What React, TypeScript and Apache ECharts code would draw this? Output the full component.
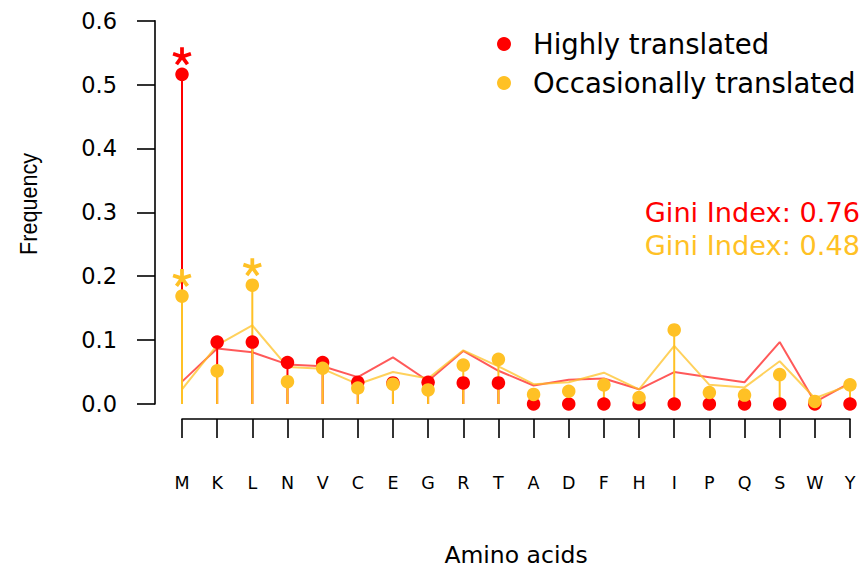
import React, { useEffect, useRef } from "react";
import * as echarts from "echarts";

// Amino acids on the x axis, in plotting order
const aminoAcids = ["M", "K", "L", "N", "V", "C", "E", "G", "R", "T", "A", "D", "F", "H", "I", "P", "Q", "S", "W", "Y"];

// Observed frequencies (dots + stems)
const highlyObserved = [0.516, 0.097, 0.097, 0.065, 0.065, 0.034, 0.033, 0.034, 0.033, 0.033, 0, 0, 0, 0, 0, 0, 0, 0, 0, 0];
const occasionallyObserved = [0.169, 0.052, 0.186, 0.035, 0.056, 0.025, 0.031, 0.022, 0.061, 0.07, 0.015, 0.02, 0.03, 0.01, 0.116, 0.018, 0.014, 0.046, 0.004, 0.03];

// Background frequencies (thin lines)
const highlyBackground = [0.035, 0.087, 0.081, 0.062, 0.059, 0.042, 0.073, 0.036, 0.083, 0.052, 0.029, 0.038, 0.04, 0.023, 0.05, 0.042, 0.034, 0.097, 0.003, 0.033];
const occasionallyBackground = [0.023, 0.092, 0.123, 0.058, 0.055, 0.031, 0.05, 0.04, 0.084, 0.059, 0.031, 0.034, 0.049, 0.023, 0.091, 0.03, 0.026, 0.067, 0.009, 0.03];

// Residues marked as significantly enriched
const highlyStarred = ["M"];
const occasionallyStarred = ["M", "L"];

const giniHighly = 0.76;
const giniOccasionally = 0.48;

const yMin = 0;
const yMax = 0.6;
const yStep = 0.1;

const RED = "#FF0000";
const GOLD = "#FFC125";
const SANS = "DejaVu Sans";

// Five-armed asterisk used as the significance marker
function asteriskSymbol(): string {
  const R = 50;
  const w = 10;
  let d = "";
  for (let k = 0; k < 5; k++) {
    const a = Math.PI / 2 + (k * 2 * Math.PI) / 5;
    const dx = Math.cos(a);
    const dy = -Math.sin(a);
    const px = -dy;
    const py = dx;
    const pts = [
      [px * w, py * w],
      [dx * R + px * w, dy * R + py * w],
      [dx * R - px * w, dy * R - py * w],
      [-px * w, -py * w],
    ];
    d += "M" + pts.map((p) => (p[0] + 60).toFixed(2) + " " + (p[1] + 60).toFixed(2)).join("L") + "Z";
  }
  return "path://" + d;
}

function starData(starred: string[], values: number[]) {
  return starred.map((aa) => [aa, values[aminoAcids.indexOf(aa)]]);
}

export default function App() {
  const ref = useRef<HTMLDivElement>(null);

  useEffect(() => {
    if (!ref.current) return;
    const chart = echarts.init(ref.current, undefined, { renderer: "svg" });
    const star = asteriskSymbol();

    chart.setOption({
      animation: false,
      backgroundColor: "#ffffff",
      grid: { left: 182, right: 16, top: 20.7, bottom: 167, containLabel: false },
      legend: {
        data: [
          { name: "Highly translated", icon: "circle" },
          { name: "Occasionally translated", icon: "circle" },
        ],
        orient: "vertical",
        left: 497,
        top: 29,
        padding: 0,
        itemWidth: 48,
        itemHeight: 14,
        itemGap: 9,
        selectedMode: false,
        textStyle: { fontFamily: SANS, fontSize: 27.5, color: "#000", lineHeight: 30 },
      },
      xAxis: {
        type: "category",
        data: aminoAcids,
        boundaryGap: false,
        offset: 15,
        axisLine: { onZero: false, lineStyle: { color: "#000", width: 1.6 } },
        axisTick: { alignWithLabel: true, length: 19, lineStyle: { color: "#000", width: 1.6 } },
        axisLabel: {
          color: "#000",
          fontFamily: SANS,
          fontSize: 17.5,
          margin: 64,
          verticalAlign: "middle",
          interval: 0,
        },
        splitLine: { show: false },
        name: "Amino acids",
        nameLocation: "middle",
        nameGap: 136,
        nameTextStyle: { color: "#000", fontFamily: SANS, fontSize: 23.5, verticalAlign: "middle" },
      },
      yAxis: {
        type: "value",
        min: yMin,
        max: yMax,
        interval: yStep,
        offset: 27,
        axisLine: { show: true, onZero: false, lineStyle: { color: "#000", width: 1.6 } },
        axisTick: { show: true, length: 18, lineStyle: { color: "#000", width: 1.6 } },
        axisLabel: {
          color: "#000",
          fontFamily: SANS,
          fontSize: 22.5,
          margin: 38,
          formatter: (v: number) => v.toFixed(1),
        },
        splitLine: { show: false },
      },
      graphic: [
        {
          type: "text",
          x: 28,
          y: 204,
          rotation: Math.PI / 2,
          scaleY: 1.15,
          style: {
            text: "Frequency",
            fontFamily: "Liberation Sans",
            fontSize: 21.6,
            fill: "#000",
            align: "center",
            verticalAlign: "middle",
          },
        },
        {
          type: "text",
          x: 860,
          y: 212,
          style: {
            text: `Gini Index: ${giniHighly.toFixed(2)}`,
            fontFamily: SANS,
            fontSize: 27.2,
            fill: RED,
            align: "right",
            verticalAlign: "middle",
          },
        },
        {
          type: "text",
          x: 860,
          y: 245,
          style: {
            text: `Gini Index: ${giniOccasionally.toFixed(2)}`,
            fontFamily: SANS,
            fontSize: 27.2,
            fill: GOLD,
            align: "right",
            verticalAlign: "middle",
          },
        },
      ],
      series: [
        {
          name: "Highly background",
          type: "line",
          data: highlyBackground,
          symbol: "none",
          clip: false,
          lineStyle: { color: "rgba(255,0,0,0.65)", width: 2 },
          z: 1,
        },
        {
          name: "Occasionally background",
          type: "line",
          data: occasionallyBackground,
          symbol: "none",
          clip: false,
          lineStyle: { color: "rgba(255,193,37,0.75)", width: 2 },
          z: 1,
        },
        {
          name: "Highly stems",
          type: "bar",
          data: highlyObserved,
          barWidth: 2,
          barGap: "-100%",
          itemStyle: { color: RED },
          z: 2,
        },
        {
          name: "Occasionally stems",
          type: "bar",
          data: occasionallyObserved,
          barWidth: 2,
          barGap: "-100%",
          itemStyle: { color: GOLD },
          z: 2,
        },
        {
          name: "Highly translated",
          type: "scatter",
          data: highlyObserved,
          symbol: "circle",
          symbolSize: 13.5,
          clip: false,
          itemStyle: { color: RED, opacity: 1 },
          z: 3,
        },
        {
          name: "Occasionally translated",
          type: "scatter",
          data: occasionallyObserved,
          symbol: "circle",
          symbolSize: 13.5,
          clip: false,
          itemStyle: { color: GOLD, opacity: 1 },
          z: 3,
        },
        {
          name: "Highly significant",
          type: "scatter",
          data: starData(highlyStarred, highlyObserved),
          symbol: star,
          symbolSize: [19, 18],
          symbolOffset: [0, -18],
          clip: false,
          itemStyle: { color: RED, opacity: 1 },
          z: 4,
        },
        {
          name: "Occasionally significant",
          type: "scatter",
          data: starData(occasionallyStarred, occasionallyObserved),
          symbol: star,
          symbolSize: [19, 18],
          symbolOffset: [0, -18],
          clip: false,
          itemStyle: { color: GOLD, opacity: 1 },
          z: 4,
        },
      ],
    });

    return () => chart.dispose();
  }, []);

  return (
    <div
      ref={ref}
      style={{ position: "fixed", left: 0, top: 0, width: 866, height: 572, background: "#fff" }}
    />
  );
}
